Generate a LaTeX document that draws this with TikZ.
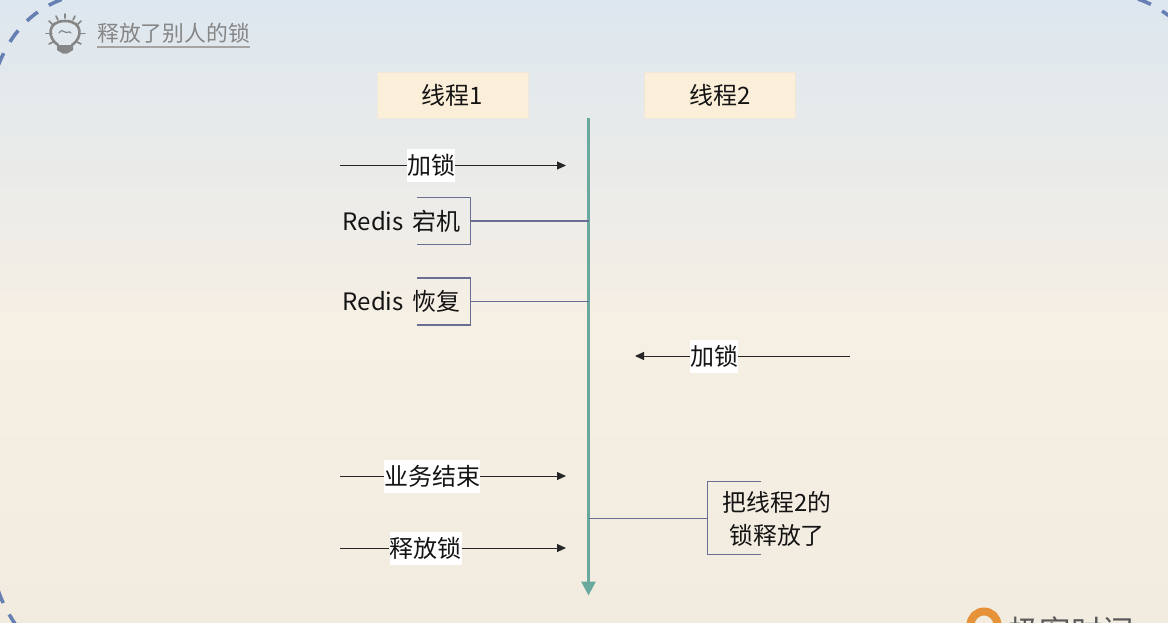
\documentclass[tikz,border=0pt]{standalone}
\usepackage{fontspec}
\setmainfont{Noto Sans CJK SC}
\usetikzlibrary{arrows.meta}
\definecolor{bgtop}{HTML}{DDE7EF}
\definecolor{bgmid}{HTML}{F6EFE4}
\definecolor{bgbot}{HTML}{F2EBE0}
\definecolor{headfill}{HTML}{FBEFD9}
\definecolor{headline}{HTML}{EFE8DA}
\definecolor{axiscol}{HTML}{69A89C}
\definecolor{brack}{HTML}{6A6E92}
\definecolor{dashcol}{HTML}{6680B4}
\definecolor{hintgrey}{HTML}{868686}
\definecolor{logoorange}{HTML}{E59238}
\pgfdeclareverticalshading{bgshade}{100bp}{
  color(0bp)=(bgbot); color(25bp)=(bgbot); color(49bp)=(bgmid); color(75bp)=(bgtop); color(100bp)=(bgtop)}
\tikzset{
  headbox/.style={draw=headline,line width=.6pt,fill=headfill,minimum width=151pt,minimum height=46pt,inner sep=0pt,font=\fontsize{24}{28}\selectfont,text=black!92},
  whitelabel/.style={fill=white,inner sep=0pt,minimum height=33pt,font=\fontsize{24}{28}\selectfont,text=black!92},
  plainlabel/.style={inner sep=0pt,font=\fontsize{24}{28}\selectfont,text=black!92,align=center},
  flowline/.style={draw=black!85,line width=.9pt,-{Triangle[length=9pt,width=8pt]}},
  flowstart/.style={draw=black!85,line width=.9pt},
  brackline/.style={draw=brack,line width=1.2pt},
  borderdash/.style={draw=dashcol,line width=3.6pt,dash pattern=on 14pt off 13pt},
  lampline/.style={draw=hintgrey,line width=2pt,line cap=round},
}
\begin{document}
\begin{tikzpicture}[x=1pt,y=-1pt]
\useasboundingbox (0,0) rectangle (1168,622);
\clip (0,0) rectangle (1168,622);
\shade[shading=bgshade] (0,0) rectangle (1168,622);
% dashed outer frame corners
\draw[borderdash] (-2,66) .. controls (12,30) and (35,8) .. (66,-2);
\draw[borderdash] (1138,-1) .. controls (1150,3) and (1160,9) .. (1172,18);
\draw[borderdash] (-2,590) .. controls (2,602) and (8,614) .. (18,628);
% hint icon
\draw[lampline,line width=2.6pt] (58,45) .. controls (47,38) and (47,21) .. (65,21) .. controls (83,21) and (83,38) .. (72,45);
\draw[lampline,line width=2pt,fill=hintgrey] (58,46) -- (72,46) -- (72,49.5) -- (67,52.5) -- (63,52.5) -- (58,49.5) -- cycle;
\draw[lampline,line width=1.2pt] (59,33) .. controls (61,30) and (63,30) .. (65,32) .. controls (67,34) and (69,30) .. (71,33);
\foreach \a/\b/\c/\d in {46/33.5/52/33.5,79/33.5/85/33.5,49/21/53/25,81/21/77/25,65/14/65/18,56/16/58/20,75/16/73/20,49/44/53/42,81/44/77/42}{
  \draw[lampline,line width=1.6pt] (\a,\b) -- (\c,\d);}
\node[inner sep=0pt,anchor=west,text=hintgrey,font=\fontsize{21.8}{26}\selectfont] (hint) at (97,33) {释放了别人的锁};
\draw[draw=hintgrey!75,line width=2pt] (97,46.5) -- (249.5,46.5);
% headers
\node[headbox] (t1) at (452.5,95) {线程1};
\node[headbox] (t2) at (720,95) {线程2};
% axis
\coordinate (axtop) at (588.5,118);
\coordinate (axbot) at (588.5,595.5);
\draw[draw=axiscol,line width=2.8pt,-{Triangle[length=14pt,width=14pt]}] (axtop) -- (axbot);
% arrows with labels
\coordinate (a1s) at (340,165.5); \coordinate (a1e) at (566,165.5);
\node[whitelabel] (lock1) at (431,165.5) {加锁};
\draw[flowstart] (a1s) -- (lock1);
\draw[flowline] (lock1) -- (a1e);
\coordinate (a2s) at (850,356); \coordinate (a2e) at (635,356);
\node[whitelabel] (lock2) at (714,356) {加锁};
\draw[flowstart] (a2s) -- (lock2);
\draw[flowline] (lock2) -- (a2e);
\coordinate (a3s) at (340,476); \coordinate (a3e) at (566,476);
\node[whitelabel] (biz) at (432,476) {业务结束};
\draw[flowstart] (a3s) -- (biz);
\draw[flowline] (biz) -- (a3e);
\coordinate (a4s) at (340,548); \coordinate (a4e) at (566,548);
\node[whitelabel] (rel) at (425.5,548) {释放锁};
\draw[flowstart] (a4s) -- (rel);
\draw[flowline] (rel) -- (a4e);
% annotations
\node[plainlabel] (down) at (401.5,221) {Redis\hspace{3pt} 宕机};
\node[plainlabel] (up) at (401.5,301.5) {Redis\hspace{3pt} 恢复};
\node[plainlabel,font=\fontsize{23.8}{33}\selectfont] (freed) at (777,518.5) {把线程2的\\锁释放了};
\coordinate (b1) at (470.5,221); \coordinate (a1) at (588.5,221);
\draw[brackline] (417,197.5) -| (b1) |- (417,244.5);
\draw[brackline] (b1) -- (a1);
\coordinate (b2) at (470.5,301.5); \coordinate (a2) at (588.5,301.5);
\draw[brackline] (417,278) -| (b2) |- (417,325);
\draw[brackline] (b2) -- (a2);
\coordinate (b3) at (707.5,518.5); \coordinate (a3) at (588.5,518.5);
\draw[brackline] (761,481.5) -| (b3) |- (761,554.5);
\draw[brackline] (a3) -- (b3);
% logo
\draw[draw=logoorange,line width=8pt] (984,625) circle[radius=13.5];
\node[inner sep=0pt,anchor=west,text=black!65,font=\fontsize{31.5}{36}\selectfont] (logo) at (1008,631) {极客时间};
\end{tikzpicture}
\end{document}
